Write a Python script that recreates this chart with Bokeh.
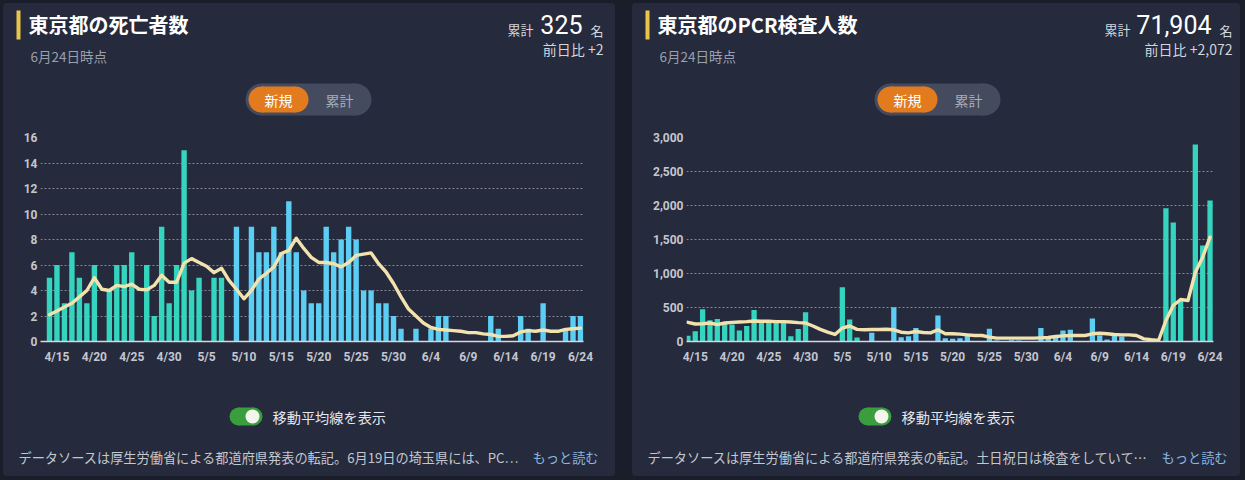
import pandas as pd
from bokeh.plotting import figure
from bokeh.models import (ColumnDataSource, FixedTicker, NumeralTickFormatter, Label,
                          Range1d, GlobalInlineStyleSheet)
from bokeh.layouts import row, column
from bokeh.embed import file_html
from bokeh.resources import INLINE
from bokeh.transform import factor_cmap

# ---------------- data ----------------
dates = [f"{d.month}/{d.day}" for d in pd.date_range("2020-04-14", "2020-06-24")]
tick_labels = ["4/15", "4/20", "4/25", "4/30", "5/5", "5/10", "5/15", "5/20",
               "5/25", "5/30", "6/4", "6/9", "6/14", "6/19", "6/24"]

deaths = [5, 6, 3, 7, 5, 3, 6, 0, 4, 6,
          6, 7, 0, 6, 2, 9, 3, 6, 15, 4,
          5, 0, 5, 5, 0, 9, 0, 9, 7, 7,
          9, 7, 11, 7, 4, 3, 3, 9, 7, 8,
          9, 8, 4, 4, 3, 3, 2, 1, 0, 1,
          0, 1, 2, 2, 0, 0, 0, 0, 0, 2,
          1, 0, 0, 2, 1, 0, 3, 0, 0, 1,
          2, 2]
deaths_avg = [2.1, 2.4, 2.7, 3.0, 3.5, 4.0, 5.0, 4.1, 4.0, 4.4,
              4.3, 4.5, 4.1, 4.05, 4.4, 5.2, 4.65, 4.65, 6.15, 6.5,
              6.2, 5.9, 5.4, 5.75, 4.8, 4.1, 3.35, 4.0, 4.9, 5.35,
              5.85, 6.9, 7.15, 8.1, 7.3, 6.6, 6.2, 6.2, 6.1, 5.85,
              6.2, 6.75, 6.85, 6.95, 6.1, 5.45, 4.55, 3.5, 2.55, 2.0,
              1.45, 1.1, 0.95, 0.9, 0.85, 0.8, 0.7, 0.7, 0.6, 0.55,
              0.4, 0.4, 0.45, 0.75, 0.85, 0.8, 0.9, 0.8, 0.8, 0.95,
              1.0, 1.05]
deaths_group = ["A"] * 25 + ["B"] * 47

pcr = [84, 149, 475, 312, 332, 270, 250, 163, 228, 465,
       285, 285, 285, 285, 79, 183, 430, 0, 0, 0,
       0, 797, 322, 59, 0, 127, 0, 0, 505, 64,
       78, 200, 0, 0, 382, 49, 39, 49, 88, 0,
       0, 186, 15, 0, 20, 15, 0, 0, 200, 40,
       60, 162, 171, 0, 0, 338, 88, 29, 88, 74,
       0, 0, 0, 0, 0, 1960, 1750, 603, 0, 2896,
       1411, 2072]
pcr_avg = [282, 257, 262, 272, 248, 272, 282, 287, 292, 302,
           297, 297, 292, 292, 287, 277, 272, 228, 178, 139,
           104, 198, 228, 178, 172, 176, 176, 181, 172, 137,
           127, 147, 132, 127, 172, 113, 113, 108, 98, 88,
           88, 64, 49, 49, 49, 49, 49, 49, 54, 59,
           74, 83, 88, 88, 88, 113, 122, 113, 103, 98,
           98, 88, 39, 25, 15, 309, 529, 617, 603, 1019,
           1240, 1534]
pcr_group = ["A"] * 25 + ["B"] * 40 + ["A"] * 7

# ---------------- style ----------------
CARD = "#252a3c"
PAGE = "#1a1e2b"
TEAL = "#35d4be"
BLUE = "#5ccdf3"
CREAM = "#f2e3ae"
JP = "Noto Sans CJK JP"
NUM = "Roboto"
HEAD_H, CHART_H, FOOT_H = 124, 243, 106


def chart(width, bl, br, ymax, ystep, vals, avg, groups, x0, x1, comma=False):
    src = ColumnDataSource(dict(x=list(range(len(dates))), v=vals, a=avg, g=groups, d=dates))
    p = figure(width=width, height=CHART_H, x_range=Range1d(x0, x1), y_range=Range1d(0, ymax),
               toolbar_location=None, output_backend="svg", frame_align=False,
               min_border_left=bl, min_border_right=br,
               min_border_top=10, min_border_bottom=29,
               background_fill_color=CARD, border_fill_color=CARD, outline_line_color=None)
    p.vbar(x="x", top="v", width=0.72, source=src, line_color=None,
           fill_color=factor_cmap("g", palette=[TEAL, BLUE], factors=["A", "B"]))
    p.line(x="x", y="a", source=src, line_color=CREAM, line_width=3.4,
           line_join="round", line_cap="round")

    p.xgrid.visible = False
    p.ygrid.grid_line_color = "#a3a7b3"
    p.ygrid.grid_line_dash = "2 2"
    p.ygrid.grid_line_alpha = 0.75
    p.ygrid.ticker = FixedTicker(ticks=list(range(0, ymax + 1, ystep)))

    xa = p.xaxis[0]
    xa.ticker = FixedTicker(ticks=[dates.index(t) for t in tick_labels])
    xa.major_label_overrides = {dates.index(t): t for t in tick_labels}
    xa.axis_line_color = "#d5d8df"
    xa.axis_line_width = 1.5
    xa.major_tick_line_color = None
    xa.minor_tick_line_color = None
    xa.major_tick_out = 0
    xa.major_label_standoff = 8
    xa.major_label_text_color = "#c3c6cf"
    xa.major_label_text_font = NUM
    xa.major_label_text_font_style = "bold"
    xa.major_label_text_font_size = "12px"

    ya = p.yaxis[0]
    ya.ticker = FixedTicker(ticks=list(range(0, ymax + 1, ystep)))
    if comma:
        ya.formatter = NumeralTickFormatter(format="0,0")
    ya.axis_line_color = None
    ya.major_tick_line_color = None
    ya.minor_tick_line_color = None
    ya.major_tick_out = 0
    ya.major_label_standoff = 3
    ya.major_label_text_color = "#c3c6cf"
    ya.major_label_text_font = NUM
    ya.major_label_text_font_style = "bold"
    ya.major_label_text_font_size = "12px"
    return p


def deco_fig(w, h):
    p = figure(width=w, height=h, x_range=Range1d(0, w), y_range=Range1d(h, 0),
               toolbar_location=None, output_backend="svg", min_border=0, frame_align=False,
               x_axis_location=None, y_axis_location=None,
               background_fill_color=CARD, border_fill_color=CARD, outline_line_color=None)
    p.grid.visible = False
    return p


def put(p, x, y, text, size, color, font=JP, bold=False, align="left"):
    p.add_layout(Label(x=x, y=y, text=text, text_font=font, text_font_size=f"{size}px",
                       text_color=color, text_font_style="bold" if bold else "normal",
                       text_align=align, text_baseline="middle"))


def pill(p, l, r, t, b, color):
    rad = (b - t) / 2
    cy = (t + b) / 2
    p.quad(left=[l + rad], right=[r - rad], top=[t], bottom=[b], fill_color=color, line_color=None)
    p.circle(x=[l + rad, r - rad], y=[cy, cy], radius=rad, fill_color=color, line_color=None)


def header(w, title, total, total_ends, diff):
    p = deco_fig(w, HEAD_H)
    p.quad(left=[13], right=[17], top=[7], bottom=[36], fill_color="#e9c44a", line_color=None)
    put(p, 25, 21, title, 20, "#ffffff", bold=True)
    put(p, 27, 52, "6月24日時点", 13.5, "#9aa0ad")
    put(p, total_ends[2], 27, "名", 13, "#d3d6dd", align="right")
    put(p, total_ends[1], 21, total, 25, "#ffffff", font=NUM, align="right")
    put(p, total_ends[0], 26, "累計", 13, "#d3d6dd", align="right")
    put(p, total_ends[2], 45, diff, 14, "#d3d6dd", align="right")
    pill(p, 242, 368, 80, 112, "#454b5e")
    pill(p, 245, 305, 83, 109, "#e27b1e")
    put(p, 275, 96, "新規", 14, "#ffffff", align="center")
    put(p, 336, 96, "累計", 14, "#a7acb8", align="center")
    return p


def footer(w, note, more_end):
    p = deco_fig(w, FOOT_H)
    pill(p, 226, 259, 37, 55, "#3a9e3f")
    p.circle(x=[249], y=[46], radius=7, fill_color="#f4f6ee", line_color=None)
    put(p, 269, 46, "移動平均線を表示", 14.2, "#e3e6ec")
    put(p, 15, 87, note, 13.2, "#c3c7d0")
    put(p, more_end, 87, "もっと読む", 13.2, "#8ab6e3", align="right")
    return p


card_style = {"background-color": CARD, "border-radius": "4px", "overflow": "hidden"}

LW, RW = 612, 608
left = column(
    header(LW, "東京都の死亡者数", "325", (530, 579, 600), "前日比 +2"),
    chart(LW, 37, 32, 16, 2, deaths, deaths_avg, deaths_group, -1.2, 71.4),
    footer(LW, "データソースは厚生労働省による都道府県発表の転記。6月19日の埼玉県には、PC…", 595),
    spacing=0, styles=card_style)
right = column(
    header(RW, "東京都のPCR検査人数", "71,904", (498, 579, 600), "前日比 +2,072"),
    chart(RW, 54, 27, 3000, 500, pcr, pcr_avg, pcr_group, -0.19, 71.47, comma=True),
    footer(RW, "データソースは厚生労働省による都道府県発表の転記。土日祝日は検査をしていて…", 595),
    spacing=0, styles=card_style)

layout = row(left, right, spacing=17, margin=(3, 0, 0, 3),
             styles={"background-color": PAGE},
             stylesheets=[GlobalInlineStyleSheet(css=f"body {{ background-color: {PAGE}; }}")])

open("out.html", "w").write(file_html(layout, INLINE))
